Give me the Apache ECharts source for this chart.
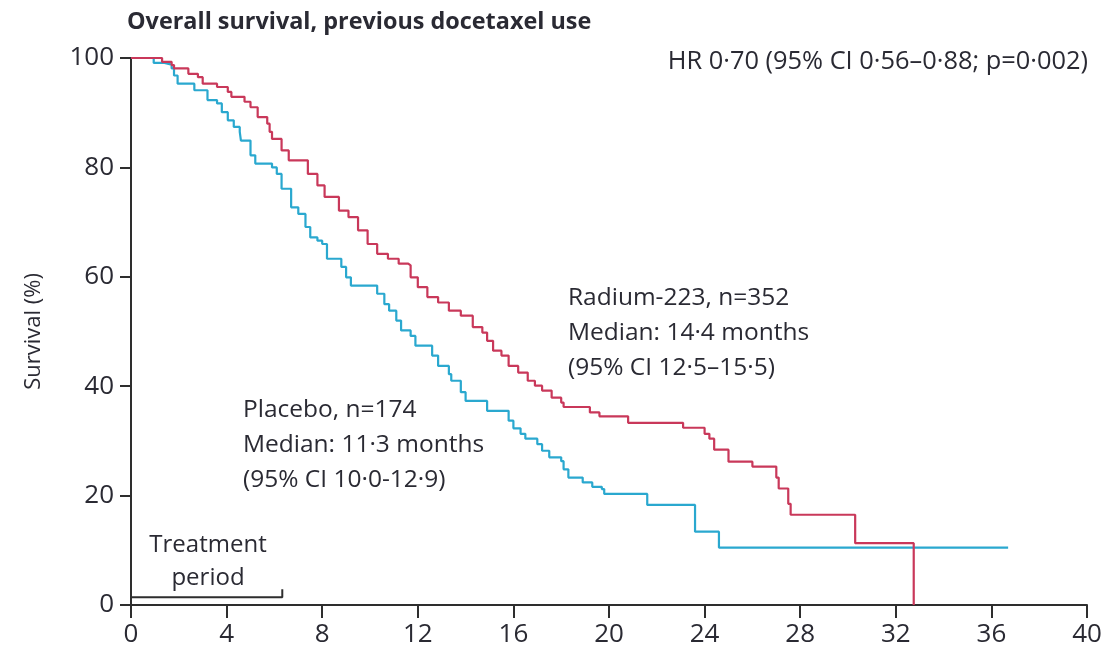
<!DOCTYPE html>
<html>
<head>
<meta charset="utf-8">
<script src="https://cdn.jsdelivr.net/npm/echarts@6/dist/echarts.min.js"></script>
<style>
  html, body { margin: 0; padding: 0; background: #fff; }
  #chart { width: 1107px; height: 654px; }
</style>
</head>
<body>
<div id="chart"></div>
<script>
// Kaplan–Meier steps: [month of event, survival % after the event]
const radiumSteps = [
  [0, 100], [1.3, 99.3], [1.7, 98.7], [1.8, 98.1], [2.4, 97.1], [2.8, 96.5], [3.0, 95.3],
  [3.6, 94.7], [4.05, 93.8], [4.2, 92.9], [4.75, 92.0], [5.0, 91.0], [5.3, 89.2], [5.7, 88.0],
  [5.8, 86.5], [5.9, 85.2], [6.3, 83.1], [6.6, 81.3], [7.4, 78.8], [7.8, 76.7], [8.1, 74.6],
  [8.7, 72.1], [9.1, 70.9], [9.5, 68.5], [9.9, 66.0], [10.3, 64.2], [10.75, 63.3], [11.2, 62.4],
  [11.6, 62.1], [11.7, 59.9], [12.0, 58.1], [12.4, 56.3], [12.85, 55.3], [13.3, 53.8],
  [13.8, 52.9], [14.3, 50.8], [14.7, 49.8], [14.9, 48.3], [15.15, 46.5], [15.5, 45.6],
  [15.8, 43.7], [16.2, 42.5], [16.6, 41.0], [16.9, 40.1], [17.2, 39.2], [17.6, 37.9],
  [18.0, 37.0], [18.1, 36.2], [19.2, 35.2], [19.6, 34.5], [20.8, 33.3], [23.1, 32.4],
  [24.0, 31.3], [24.2, 30.4], [24.4, 28.4], [25.0, 26.2], [26.0, 25.3], [27.0, 23.3],
  [27.1, 21.3], [27.5, 18.5], [27.6, 16.5], [30.3, 11.3], [32.75, 0]
];

const placeboSteps = [
  [0, 100], [0.95, 99.1], [1.4, 98.8], [1.7, 98.1], [1.8, 96.8], [1.95, 95.3], [2.65, 94.1],
  [3.2, 92.3], [3.6, 91.7], [3.8, 90.1], [4.05, 88.6], [4.3, 87.4], [4.55, 86.5], [4.6, 84.9],
  [5.0, 82.2], [5.2, 80.7], [5.9, 80.0], [6.1, 78.8], [6.3, 76.1], [6.7, 72.7], [7.0, 71.5],
  [7.3, 69.1], [7.5, 67.2], [7.8, 66.6], [8.0, 66.0], [8.2, 63.3], [8.8, 61.8], [9.0, 59.9],
  [9.2, 58.4], [10.3, 56.9], [10.6, 55.0], [10.8, 53.8], [11.1, 52.0], [11.3, 50.2],
  [11.7, 49.2], [11.9, 47.4], [12.6, 45.6], [12.85, 43.7], [13.3, 42.2], [13.4, 41.0],
  [13.8, 38.9], [14.0, 37.3], [14.9, 35.5], [15.8, 33.7], [16.0, 32.3], [16.3, 31.3],
  [16.5, 30.4], [17.0, 29.4], [17.2, 28.2], [17.5, 27.0], [18.0, 26.3], [18.1, 24.8],
  [18.3, 23.3], [18.9, 22.4], [19.3, 21.6], [19.7, 21.2], [19.8, 20.3], [21.6, 18.3],
  [23.6, 13.4], [24.6, 10.5], [36.7, 10.5]
];

// Treatment-period bracket along the bottom of the plot (months, survival-axis level)
const treatmentBracket = [[0, 1.4], [6.33, 1.4], [6.33, 2.9]];

const xTicks = { min: 0, max: 40, interval: 4 };
const yTicks = { min: 0, max: 100, interval: 20 };

const titleText = 'Overall survival, previous docetaxel use';
const hrText = 'HR 0·70 (95% CI 0·56–0·88; p=0·002)';
const radiumLines = ['Radium-223, n=352', 'Median: 14·4 months', '(95% CI 12·5–15·5)'];
const placeboLines = ['Placebo, n=174', 'Median: 11·3 months', '(95% CI 10·0-12·9)'];
const treatmentLines = ['Treatment', 'period'];
const yAxisTitle = 'Survival (%)';

const FONT = '"Open Sans", "Liberation Sans", sans-serif';
const INK = '#2a2a33';
const AXIS = '#2e2e2e';
const RED = '#c9385a';
const BLUE = '#2aa8cf';

const chart = echarts.init(document.getElementById('chart'), null, { renderer: 'canvas' });

function textBlock(lines, x, y0, step, size, align) {
  return lines.map((t, i) => ({
    type: 'text',
    x: x,
    y: y0 + i * step,
    silent: true,
    style: {
      text: t,
      font: `${size}px ${FONT}`,
      fill: INK,
      align: align || 'left',
      verticalAlign: 'middle'
    }
  }));
}

const option = {
  animation: false,
  backgroundColor: '#fff',
  grid: { left: 131, right: 20, top: 58, bottom: 49, containLabel: false },
  xAxis: {
    type: 'value',
    min: xTicks.min, max: xTicks.max, interval: xTicks.interval,
    axisLine: { show: true, lineStyle: { color: AXIS, width: 2 } },
    axisTick: { show: true, inside: false, length: 13, lineStyle: { color: AXIS, width: 2 } },
    axisLabel: { color: INK, fontFamily: FONT, fontSize: 26, margin: 17 },
    splitLine: { show: false }
  },
  yAxis: {
    type: 'value',
    min: yTicks.min, max: yTicks.max, interval: yTicks.interval,
    name: yAxisTitle,
    nameLocation: 'middle',
    nameRotate: 90,
    nameGap: 86,
    nameTextStyle: { color: INK, fontFamily: FONT, fontSize: 22 },
    axisLine: { show: true, lineStyle: { color: AXIS, width: 2 } },
    axisTick: { show: true, inside: false, length: 11, lineStyle: { color: AXIS, width: 2 } },
    axisLabel: { color: INK, fontFamily: FONT, fontSize: 26, margin: 17 },
    splitLine: { show: false }
  },
  series: [
    {
      name: 'Placebo',
      type: 'line',
      step: 'end',
      data: placeboSteps,
      showSymbol: false,
      lineStyle: { color: BLUE, width: 2.2 },
      z: 3
    },
    {
      name: 'Radium-223',
      type: 'line',
      step: 'end',
      data: radiumSteps,
      showSymbol: false,
      lineStyle: { color: RED, width: 2.2 },
      z: 4
    },
    {
      name: 'Treatment period',
      type: 'line',
      data: treatmentBracket,
      showSymbol: false,
      lineStyle: { color: AXIS, width: 2 },
      z: 2
    }
  ],
  graphic: [
    {
      type: 'text', x: 127, y: 22, silent: true,
      style: { text: titleText, font: `bold 23.4px ${FONT}`, fill: INK, align: 'left', verticalAlign: 'middle' }
    },
    {
      type: 'text', x: 1088, y: 62, silent: true,
      style: { text: hrText, font: `25.4px ${FONT}`, fill: INK, align: 'right', verticalAlign: 'middle' }
    },
    ...textBlock(radiumLines, 568, 298, 35, 24.5),
    ...textBlock(placeboLines, 243, 410, 35, 24.5),
    ...textBlock(treatmentLines, 208, 545, 33, 24, 'center')
  ]
};

chart.setOption(option);
</script>
</body>
</html>
